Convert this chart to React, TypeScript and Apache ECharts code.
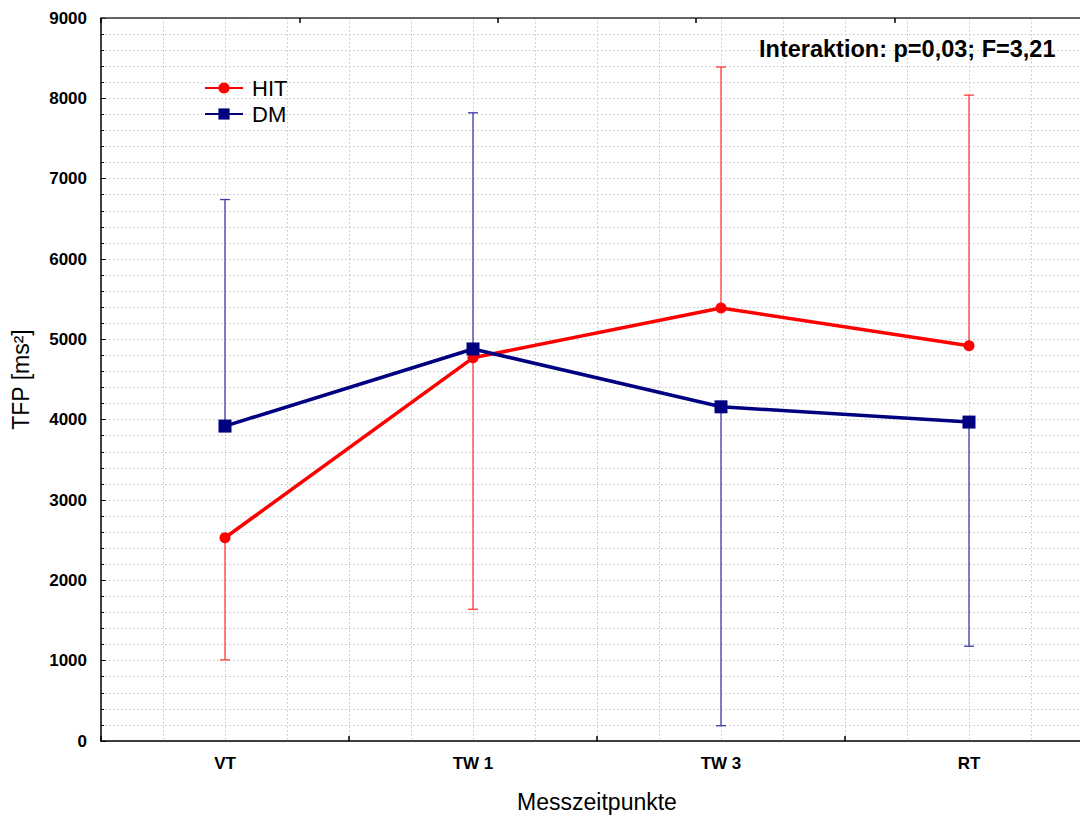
import React, { useEffect, useRef } from "react";
import * as echarts from "echarts";

const categories = ["VT", "TW 1", "TW 3", "RT"];
const hitMean = [2530, 4770, 5390, 4920];
const hitErrEnd = [1010, 1640, 8390, 8040];
const dmMean = [3920, 4880, 4160, 3970];
const dmErrEnd = [6740, 7820, 190, 1180];
const yTicks = { min: 0, max: 9000, interval: 1000 };
const annotation = "Interaktion: p=0,03; F=3,21";

const FONT = "Liberation Sans";
const RED = "#ff0000";
const NAVY = "#000080";
const RED_ERR = "#ff3a3a";
const NAVY_ERR = "#3c3ca8";
const GRID_COLOR = "#c4c4c4";

function errSeries(name: string, means: number[], ends: number[], color: string) {
  return {
    type: "custom",
    name: name + "_err",
    xAxisIndex: 0,
    yAxisIndex: 0,
    z: 1,
    silent: true,
    data: means.map((m, i) => [i, m, ends[i]]),
    renderItem: (params: any, api: any) => {
      const x = api.value(0);
      const p0 = api.coord([x, api.value(1)]);
      const p1 = api.coord([x, api.value(2)]);
      const style = { stroke: color, lineWidth: 1.3 };
      return {
        type: "group",
        children: [
          { type: "line", shape: { x1: p0[0], y1: p0[1], x2: p1[0], y2: p1[1] }, style },
          { type: "line", shape: { x1: p1[0] - 5, y1: p1[1], x2: p1[0] + 5, y2: p1[1] }, style },
        ],
      };
    },
  };
}

export default function App() {
  const ref = useRef<HTMLDivElement>(null);
  useEffect(() => {
    if (!ref.current) return;
    const chart = echarts.init(ref.current, null, { renderer: "svg" });
    const dotted = { color: GRID_COLOR, width: 1, type: [1.5, 2.5] as any };
    chart.setOption({
      animation: false,
      backgroundColor: "#ffffff",
      textStyle: { fontFamily: FONT },
      grid: { left: 101, top: 18, right: -13, bottom: 74, containLabel: false, outerBoundsMode: "none" },
      legend: {
        orient: "vertical",
        left: 204,
        top: 77,
        padding: 0,
        itemWidth: 38,
        itemHeight: 14,
        itemGap: 4,
        data: ["HIT", "DM"],
        textStyle: { fontSize: 22, lineHeight: 22, color: "#000", fontFamily: FONT, padding: [0, 0, 0, 4] },
      },
      xAxis: [
        {
          type: "category",
          data: categories,
          position: "bottom",
          boundaryGap: true,
          axisLine: { show: true, lineStyle: { color: "#000", width: 1.5 } },
          axisTick: { show: true, inside: true, length: 5, lineStyle: { color: "#000", width: 1.5 } },
          axisLabel: { fontSize: 17, fontWeight: "bold", color: "#000", margin: 14, fontFamily: FONT },
          splitLine: { show: false },
          name: "Messzeitpunkte",
          nameLocation: "middle",
          nameGap: 49,
          nameTextStyle: { fontSize: 23, color: "#000", fontFamily: FONT },
          z: 5,
        },
        {
          type: "category",
          data: ["", "", "", "", ""],
          position: "top",
          boundaryGap: true,
          axisLine: { show: true, lineStyle: { color: "#333", width: 1.5 } },
          axisTick: { show: true, inside: true, length: 5, lineStyle: { color: "#000", width: 1.5 } },
          axisLabel: { show: false },
          splitLine: { show: false },
          z: 5,
        },
        {
          type: "value",
          min: 0,
          max: 16,
          interval: 1,
          position: "bottom",
          axisLine: { show: false },
          axisTick: { show: false },
          axisLabel: { show: false },
          splitLine: { show: true, lineStyle: dotted },
          z: 0,
        },
      ],
      yAxis: {
        type: "value",
        min: yTicks.min,
        max: yTicks.max,
        interval: yTicks.interval,
        axisLine: { show: true, lineStyle: { color: "#000", width: 1.5 } },
        axisTick: { show: true, inside: true, length: 5, lineStyle: { color: "#000" } },
        minorTick: { show: true, splitNumber: 5, length: 3, lineStyle: { color: "#000" } },
        axisLabel: {
          fontSize: 17,
          fontWeight: "bold",
          color: "#000",
          margin: 14,
          fontFamily: FONT,
          formatter: (v: number) => String(v),
        },
        splitLine: { show: true, lineStyle: dotted },
        minorSplitLine: { show: true, lineStyle: dotted },
        name: "TFP [ms²]",
        nameLocation: "middle",
        nameRotate: 90,
        nameGap: 69,
        nameTextStyle: { fontSize: 23, color: "#000", fontFamily: FONT },
      },
      graphic: [
        {
          type: "text",
          left: 759,
          top: 37,
          z: 10,
          style: {
            text: annotation,
            fontSize: 23.5,
            fontWeight: "bold",
            fontFamily: FONT,
            fill: "#000",
          },
        },
      ],
      series: [
        errSeries("HIT", hitMean, hitErrEnd, RED_ERR),
        errSeries("DM", dmMean, dmErrEnd, NAVY_ERR),
        {
          type: "line",
          name: "DM",
          xAxisIndex: 0,
          yAxisIndex: 0,
          data: dmMean,
          symbol: "rect",
          symbolSize: 13,
          z: 3,
          lineStyle: { color: NAVY, width: 3.5 },
          itemStyle: { color: NAVY },
        },
        {
          type: "line",
          name: "HIT",
          xAxisIndex: 0,
          yAxisIndex: 0,
          data: hitMean,
          symbol: "circle",
          symbolSize: 11,
          z: 2,
          lineStyle: { color: RED, width: 3.5 },
          itemStyle: { color: RED },
        },
      ],
    });
    return () => chart.dispose();
  }, []);
  return (
    <div
      ref={ref}
      style={{ position: "fixed", left: 0, top: 0, width: 1080, height: 815, background: "#fff" }}
    />
  );
}
